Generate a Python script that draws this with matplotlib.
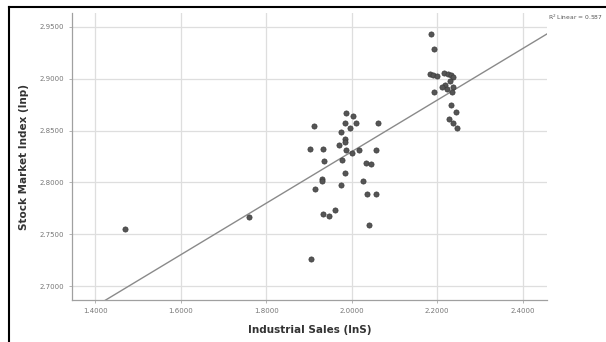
import matplotlib
matplotlib.use("Agg")
import matplotlib.pyplot as plt
import numpy as np
from matplotlib.lines import Line2D

# Data
ln_sales = [1.4702, 1.7602, 1.9046, 1.9871, 2.0042, 1.9123, 1.9855, 2.0105, 2.0620, 1.9965,
            1.9747, 1.9855, 1.9841, 1.9701, 1.9029, 1.9326, 1.9871, 2.0183, 2.0573, 2.0012,
            1.9357, 1.9778, 2.0339, 2.0449, 1.9841, 1.9310, 1.9310, 2.0276, 1.9747, 1.9153,
            2.0356, 2.0573, 1.9607, 1.9326, 1.9481, 2.0416,
            2.1853, 2.1930, 2.1836, 2.1913, 2.2007, 2.2164, 2.2257, 2.2335, 2.2381, 2.2304,
            2.2194, 2.2117, 2.2227, 2.2367, 2.2351, 2.1930, 2.2321, 2.2444, 2.2274, 2.2367,
            2.2461]
ln_index = [2.7553, 2.7666, 2.7258, 2.8673, 2.8641, 2.8540, 2.8576, 2.8576, 2.8576, 2.8525,
            2.8486, 2.8422, 2.8390, 2.8364, 2.8320, 2.8320, 2.8313, 2.8313, 2.8313, 2.8281,
            2.8204, 2.8216, 2.8190, 2.8178, 2.8094, 2.8036, 2.8011, 2.8011, 2.7972, 2.7933,
            2.7888, 2.7888, 2.7734, 2.7695, 2.7676, 2.7586,
            2.9432, 2.9285, 2.9046, 2.9034, 2.9027, 2.9059, 2.9046, 2.9034, 2.9014, 2.8982,
            2.8937, 2.8918, 2.8904, 2.8924, 2.8873, 2.8873, 2.8750, 2.8680, 2.8609, 2.8570,
            2.8525]
x_ticks = [1.4, 1.6, 1.8, 2.0, 2.2, 2.4]
y_ticks = [2.70, 2.75, 2.80, 2.85, 2.90, 2.95]
r2_label = "R$^2$ Linear = 0.587"

fig = plt.figure(figsize=(6.06, 3.42), dpi=100)
fig.patch.set_facecolor("white")
ax = fig.add_axes([72/606, 42/342, 475/606, 287/342])

x = np.array(ln_sales)
y = np.array(ln_index)
slope, intercept = np.polyfit(x, y, 1)

xlim = (1.346, 2.457)
ylim = (2.6865, 2.9635)
ax.set_xlim(*xlim)
ax.set_ylim(*ylim)

ax.grid(True, color="#dedede", linewidth=0.9, zorder=0)
ax.set_axisbelow(True)

xl = np.array(xlim)
ax.plot(xl, intercept + slope * xl, color="#8a8a8a", linewidth=1.0, zorder=2)
ax.scatter(x, y, s=14, color="#555555", edgecolors="#3a3a3a", linewidths=0.5, zorder=3)

ax.set_xticks(x_ticks)
ax.set_yticks(y_ticks)
ax.set_xticklabels([f"{v:.4f}" for v in x_ticks])
ax.set_yticklabels([f"{v:.4f}" for v in y_ticks])
ax.tick_params(axis="both", labelsize=5, colors="#a8a8a8", length=2, width=0.6, labelcolor="#777777")

for s in ["top", "right"]:
    ax.spines[s].set_visible(False)
for s in ["left", "bottom"]:
    ax.spines[s].set_color("#a0a0a0")
    ax.spines[s].set_linewidth(0.9)

ax.set_xlabel("Industrial Sales (lnS)", fontsize=7.5, fontweight="bold", color="#333333", labelpad=8)
ax.set_ylabel("Stock Market Index (lnp)", fontsize=7.5, fontweight="bold", color="#333333", labelpad=8)

fig.text(603/606, 1 - 17/342, r2_label, fontsize=4.3, color="#555555", va="center", ha="right")

# outer frame (left and top edges visible)
fig.add_artist(Line2D([9/606, 9/606], [0, 1 - 7/342], color="black", linewidth=1.5, transform=fig.transFigure))
fig.add_artist(Line2D([9/606, 1], [1 - 7/342, 1 - 7/342], color="black", linewidth=1.5, transform=fig.transFigure))

fig.savefig("out.png", dpi=100, facecolor="white")
